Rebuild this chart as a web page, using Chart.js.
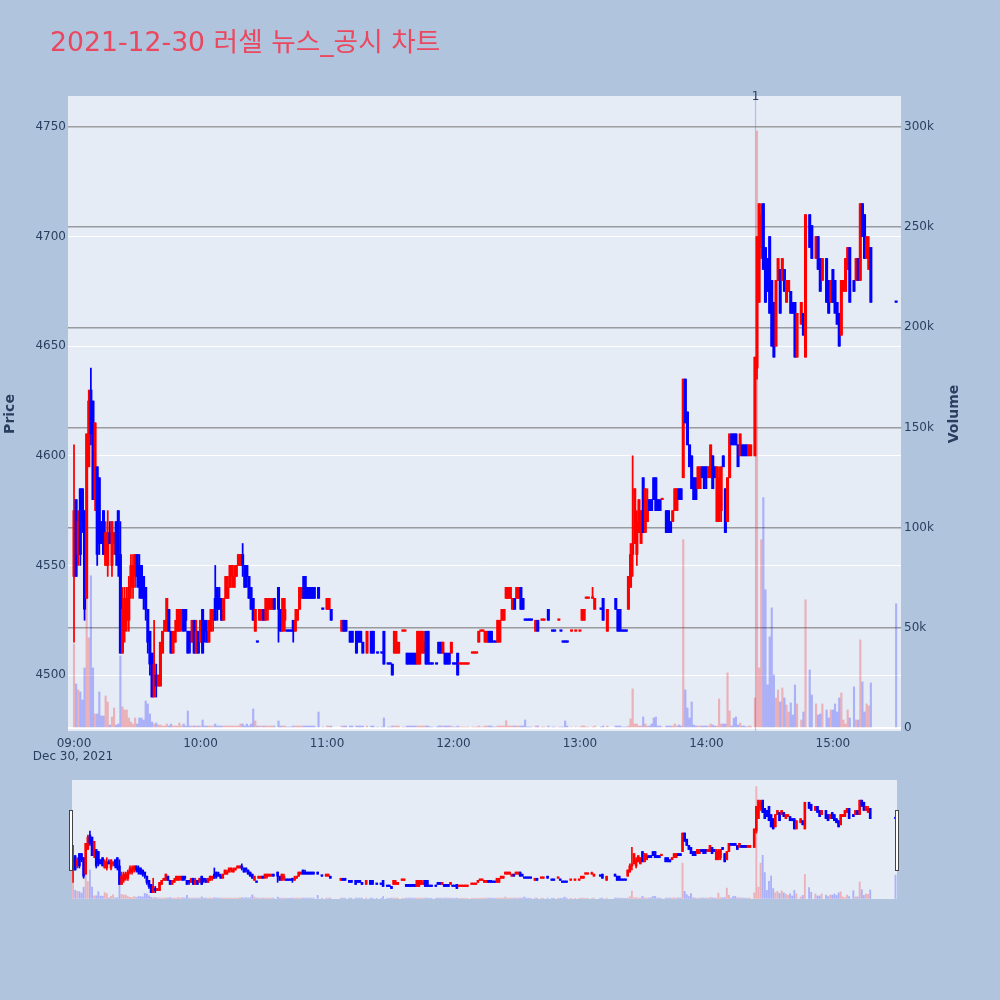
<!DOCTYPE html>
<html>
<head>
<meta charset="utf-8">
<script src="https://cdn.jsdelivr.net/npm/chart.js@4.4.0/dist/chart.umd.min.js"></script>
<style>
  body { margin: 0; background: #b0c4de; width: 1000px; height: 1000px; overflow: hidden; position: relative; }
  #mainChart { position: absolute; left: 0; top: 0; }
  #sliderChart { position: absolute; left: 60px; top: 770px; }
</style>
</head>
<body>
<canvas id="mainChart" width="1000" height="780"></canvas>
<canvas id="sliderChart" width="850" height="140"></canvas>
<script>
// minutes after 09:00, one candle per traded minute
const minutes = [
  0,1,2,3,4,5,6,7,8,9, 10,11,12,13,14,15,16,17,18,19, 20,21,22,23,24,25,26,27,28,29, 30,31,32,33,34,35,36,37,38,39, 40,41,42,
  43,44,45,46,47,48,49,50,51,52, 53,54,55,56,57,58,59,60,61,62, 63,64,65,66,67,68,69,70,71,72, 73,74,75,76,77,78,79,80,81,82,
  83,84,85,86,87,88,89,90,91,92, 93,94,95,97,98,99,100,101,102,103, 104,105,106,107,108,109,110,111,112,113, 114,116,118,120,121,122,
  127,128,129,131,132,134,135,136,137,139, 141,142,144,146,147,149,150,151,152,153, 154,156,157,158,159,160,161,162,163,164,
  165,166,167,168,169,170,172,173,174,175, 176,177,178,179,180,181,182,183,184,185, 186,187,189,190,191,192,193,194,195,196,
  197,198,199,200,201,202,203,204,205,206, 207,208,209,210,211,212,213,214,215,216, 217,219,220,222,223,225,227,228,230,231,
  232,233,234,236,238,240,241,242,243,244, 246,247,250,251,253,257,258,259,260,261, 262,
  263,264,265,266,267,268,269,270,271,272, 273,274,275,276,277,278,279,281,282,283, 284,285,286,287,288,289,290,291,292,293,
  294,295,296,297,298,299,300,301,302,303, 304,305,306,307,308,309,310,311,312,313, 314,315,316,317,318,319,320,321,
  323,324,325,326,327,328,329,330,331,332, 333,334,335,336,337,338,339,340,341,342, 343,345,346,347,349,350,352,353,354,355,
  357,358,359,360,361,362,363,364,365,366, 367,368,370,371,372,373,374,375,376,377, 378,390
];

const opens = [
  4545,4580,4555,4585,4585,4575,4535,4595,4630,4625, 4580,4595,4590,4570,4575,4550,4550,4565,4550,4560, 4570,4575,4555,4510,4520,4525,4525,4540,4540,4545, 4555,4550,4550,4545,4540,4530,4520,4510,4490,4500, 4495,4495,4510,
  4520,4520,4530,4520,4510,4515,4520,4520,4525,4530, 4530,4520,4520,4515,4525,4510,4520,4515,4530,4525, 4520,4515,4520,4525,4535,4540,4535,4530,4525,4535, 4535,4540,4545,4540,4545,4550,4550,4555,4550,4550,
  4545,4540,4535,4520,4515,4525,4525,4530,4525,4530, 4530,4530,4535,4540,4530,4520,4525,4520,4520,4520, 4525,4520,4525,4530,4535,4545,4540,4540,4540,4540, 4540,4540,4530,4530,4530,4530,
  4520,4525,4525,4520,4520,4520,4520,4520,4515,4510, 4520,4520,4510,4510,4520,4505,4505,4505,4510,4510, 4510,4520,4520,4510,4510,4510,4510,4510,4505,4505,
  4510,4510,4520,4520,4505,4505,4505,4515,4515,4510, 4510,4510,4510,4510,4505,4505,4510,4505,4505,4505, 4505,4505,4510,4510,4510,4515,4520,4520,4515,4515,
  4520,4520,4515,4515,4515,4515,4525,4525,4535,4535, 4535,4530,4535,4535,4535,4540,4535,4525,4525,4525, 4525,4520,4525,4525,4525,4530,4520,4520,4525,4520,
  4515,4515,4515,4520,4520,4520,4525,4525,4535,4535, 4535,4530,4530,4535,4520,4535,4530,4530,4520,4520, 4520,
  4530,4540,4555,4560,4555,4565,4560,4590,4565,4570, 4580,4580,4590,4590,4580,4580,4580,4575,4575,4570, 4570,4575,4575,4585,4585,4590,4635,4620,4605,4600,
  4590,4590,4585,4585,4595,4595,4595,4590,4590,4600, 4595,4570,4570,4575,4600,4585,4570,4590,4610,4610, 4610,4605,4600,4605,4605,4605,4600,4600,
  4600,4640,4670,4695,4715,4695,4690,4700,4680,4670, 4650,4680,4685,4680,4685,4670,4675,4675,4670,4670, 4645,4660,4665,4645,4710,4705,4690,4700,4690,4680,
  4690,4680,4670,4685,4680,4670,4665,4655,4675,4675, 4685,4695,4680,4680,4690,4680,4715,4710,4690,4685, 4695,4670
];

const highs = [
  4605,4580,4575,4585,4585,4575,4610,4630,4640,4625, 4615,4595,4590,4570,4575,4570,4575,4570,4570,4565, 4570,4575,4570,4540,4540,4540,4545,4555,4555,4555, 4555,4555,4550,4545,4540,4530,4520,4510,4525,4505, 4500,4515,4520,
  4525,4535,4530,4520,4520,4525,4530,4530,4530,4530, 4530,4520,4520,4525,4525,4525,4520,4525,4530,4525, 4525,4525,4530,4530,4550,4540,4540,4535,4535,4545, 4545,4550,4550,4550,4550,4555,4555,4560,4550,4550,
  4545,4540,4535,4530,4515,4530,4530,4530,4535,4535, 4535,4535,4535,4540,4530,4535,4535,4520,4520,4520, 4525,4530,4530,4540,4540,4545,4545,4540,4540,4540, 4540,4540,4530,4535,4535,4530,
  4525,4525,4525,4520,4520,4520,4520,4520,4515,4520, 4520,4520,4510,4510,4520,4505,4505,4505,4520,4520, 4515,4520,4520,4510,4510,4510,4510,4510,4520,4520,
  4520,4520,4520,4520,4505,4505,4505,4515,4515,4515, 4510,4510,4510,4515,4505,4505,4510,4505,4505,4505, 4505,4505,4510,4510,4510,4520,4520,4520,4520,4520,
  4520,4520,4515,4515,4525,4525,4530,4530,4540,4540, 4540,4535,4535,4540,4540,4540,4535,4525,4525,4525, 4525,4525,4525,4525,4525,4530,4520,4520,4525,4520,
  4515,4515,4515,4520,4520,4520,4530,4530,4535,4535, 4540,4535,4530,4535,4530,4535,4530,4530,4520,4520, 4520,
  4545,4560,4600,4585,4575,4580,4575,4590,4585,4585, 4580,4580,4590,4590,4580,4580,4580,4575,4575,4570, 4575,4585,4585,4585,4585,4635,4635,4620,4605,4600,
  4590,4590,4595,4595,4595,4595,4595,4595,4605,4600, 4595,4595,4595,4595,4600,4585,4590,4610,4610,4610, 4610,4605,4610,4605,4605,4605,4605,4605,
  4645,4700,4715,4715,4715,4695,4690,4700,4680,4670, 4680,4690,4685,4690,4685,4680,4680,4675,4670,4670, 4665,4670,4665,4710,4710,4705,4700,4700,4690,4690,
  4690,4680,4680,4685,4680,4670,4665,4680,4680,4690, 4695,4695,4680,4690,4690,4715,4715,4710,4700,4700, 4695,4670
];

const lows = [
  4515,4545,4550,4550,4565,4525,4535,4595,4605,4580, 4575,4550,4555,4560,4555,4550,4545,4560,4545,4555, 4550,4545,4510,4510,4515,4520,4520,4535,4535,4540, 4540,4535,4535,4530,4525,4510,4500,4490,4490,4490, 4495,4495,4510,
  4520,4520,4520,4510,4510,4515,4520,4520,4520,4520, 4520,4510,4510,4515,4510,4510,4510,4515,4510,4515, 4515,4515,4520,4520,4525,4525,4530,4525,4525,4535, 4535,4540,4540,4540,4545,4550,4550,4545,4540,4540,
  4535,4530,4525,4520,4515,4525,4525,4525,4525,4525, 4530,4530,4530,4515,4520,4520,4520,4520,4520,4520, 4515,4520,4525,4530,4535,4535,4535,4535,4535,4535, 4535,4535,4530,4530,4530,4525,
  4520,4520,4520,4515,4515,4510,4515,4515,4510,4510, 4510,4510,4510,4510,4505,4505,4505,4500,4510,4510, 4510,4520,4520,4505,4505,4505,4505,4505,4505,4505,
  4510,4510,4505,4505,4505,4505,4505,4510,4510,4510, 4505,4505,4505,4510,4505,4505,4500,4505,4505,4505, 4505,4505,4510,4510,4510,4515,4520,4520,4515,4515,
  4515,4515,4515,4515,4515,4515,4525,4525,4535,4535, 4535,4530,4530,4535,4535,4530,4530,4525,4525,4525, 4525,4520,4520,4525,4525,4525,4520,4520,4525,4520,
  4515,4515,4515,4520,4520,4520,4525,4525,4535,4535, 4535,4530,4530,4525,4520,4530,4520,4520,4520,4520, 4520,
  4530,4540,4545,4560,4550,4565,4560,4565,4565,4570, 4575,4575,4580,4575,4575,4575,4580,4565,4565,4565, 4570,4575,4575,4580,4580,4590,4615,4605,4595,4585,
  4580,4580,4585,4585,4590,4585,4585,4590,4590,4585, 4590,4570,4570,4570,4595,4565,4570,4590,4605,4605, 4605,4595,4600,4600,4600,4600,4600,4600,
  4600,4635,4670,4690,4685,4670,4675,4665,4650,4645, 4650,4680,4665,4680,4675,4670,4675,4665,4665,4645, 4645,4660,4655,4645,4695,4690,4690,4685,4675,4680,
  4670,4665,4670,4670,4665,4660,4650,4655,4675,4675, 4685,4670,4675,4680,4680,4680,4700,4690,4690,4685, 4670,4670
];

const closes = [
  4575,4545,4570,4555,4570,4530,4610,4625,4610,4580, 4615,4555,4560,4560,4555,4565,4565,4560,4570,4565, 4555,4550,4510,4530,4535,4535,4540,4550,4550,4555, 4545,4540,4535,4535,4530,4515,4505,4490,4505,4495, 4500,4515,4520,
  4525,4535,4520,4510,4520,4520,4530,4530,4530,4520, 4525,4510,4515,4525,4510,4520,4510,4525,4510,4520, 4515,4525,4530,4530,4525,4530,4530,4525,4535,4545, 4540,4550,4550,4545,4550,4555,4555,4550,4540,4545,
  4535,4530,4525,4530,4515,4530,4530,4525,4535,4535, 4535,4535,4530,4530,4520,4535,4530,4520,4520,4520, 4520,4525,4530,4540,4540,4535,4535,4535,4535,4535, 4535,4535,4530,4535,4535,4525,
  4525,4520,4520,4515,4515,4510,4515,4515,4510,4520, 4510,4510,4510,4510,4505,4505,4505,4500,4520,4515, 4515,4520,4520,4505,4505,4505,4505,4505,4520,4520,
  4520,4515,4505,4505,4505,4505,4505,4510,4510,4515, 4505,4505,4505,4515,4505,4505,4500,4505,4505,4505, 4505,4505,4510,4510,4510,4520,4520,4520,4520,4520,
  4515,4515,4515,4515,4525,4525,4530,4530,4540,4540, 4540,4535,4530,4540,4540,4530,4530,4525,4525,4525, 4525,4525,4520,4525,4525,4525,4520,4520,4525,4520,
  4515,4515,4515,4520,4520,4520,4530,4530,4535,4535, 4535,4535,4530,4525,4530,4530,4520,4520,4520,4520, 4520,
  4545,4555,4560,4585,4570,4580,4575,4565,4585,4580, 4575,4575,4580,4575,4575,4575,4580,4565,4565,4565, 4575,4585,4585,4580,4580,4635,4615,4605,4595,4585,
  4580,4580,4595,4595,4590,4585,4590,4595,4605,4585, 4590,4595,4590,4595,4595,4565,4590,4610,4605,4605, 4605,4595,4610,4600,4600,4600,4605,4605,
  4645,4700,4715,4710,4685,4670,4675,4665,4650,4645, 4680,4690,4665,4690,4675,4680,4680,4665,4665,4645, 4665,4670,4655,4710,4695,4690,4700,4685,4675,4690,
  4670,4665,4680,4670,4665,4660,4650,4680,4680,4690, 4695,4670,4675,4690,4680,4715,4700,4690,4700,4695, 4670,4670
];

// traded volume, thousands of shares
const volumeK = [
  42,22,19,18,14,30,74,45,76,30, 7,7,18,6,6,16,13,1.5,5.5,10, 1.5,2,36,10.5,9,9,5,3,2,5, 2,5,5,4,13.5,12,7,3,2,2.5, 1.5,1.5,1,
  1,2,1,2,1,1,1,2.5,1,2, 1,8.5,1,1,1,1,1,1,4,1, 1,1,1,1,2,1,1,1,1,1, 1,1,1,1,1,1,2,2,1,2,
  1,2,9.5,3.5,1,1,1,1,1,1, 1,1,1,3.5,1,1,1,0.5,0.5,0.5, 1,1,1,1,1,1,1,1,1,1, 1,8,0.5,1,1,1,
  1,1,1,1,1,1,1,1,1,1, 1,1,0.5,0.5,5,0.5,0.5,1,1,1, 1,0.5,0.5,1,1,1,1,1,1,1,
  1,1,1,1,0.5,0.5,0.5,1,1,1, 1,1,1,1,0.5,0.5,1,0.5,0.5,0.5, 0.5,0.5,0.5,0.5,0.5,1,0.5,0.5,1,1,
  1,1,0.5,0.5,1,1,1,1,3.7,1, 1,1,1,1,1,1,1,4,0.5,0.5, 0.5,1,1,0.5,0.5,1,0.5,0.5,0.5,0.5,
  0.5,3.5,1,0.5,0.5,0.5,1,1,0.5,0.5, 0.5,1,0.5,1,1,1,1,1,0.5,0.5, 0.5,
  1,4.5,19.5,2,2,1,1,5.5,2,1, 1,2,5,5.5,1,1,0.5,1,1,1, 1,2,1,1.5,1,94,19,10,5,13,
  1.5,1,1,1,1,1,1,1,2,1.5, 1,1,14.5,2,2,2,27.5,8.5,1,4.8, 5.5,1.5,2.5,1,1,0.5,1,1,
  15,298,30,94,115,69,21.5,45.5,60,26.5, 15,19,13,20,15,11.5,8,12.5,6.5,21.5, 12,4,8,64,29,16.5,12,6.5,7,12,
  9,5,9,9,12,8,15,17.5,4,2, 9,5,20.5,4,4,44,23,8,12,11, 22.5,62
];

const priceTicks = [4500, 4550, 4600, 4650, 4700, 4750];
const newsMinutes = [323.3];
const newsLabels = ['1'];
const chartTitle = '2021-12-30 러셀 뉴스_공시 차트';
const dateLabel = 'Dec 30, 2021';

const UP = '#ff0000';
const DOWN = '#0000ff';
const INK = '#2a3f5f';

Chart.defaults.font.family = "'DejaVu Sans', sans-serif";
Chart.defaults.font.size = 12;
Chart.defaults.color = INK;

// red = close above open, blue = below; flat candles follow the previous close
const isUp = [];
minutes.forEach((t, i) => {
  const o = opens[i], c = closes[i];
  let up;
  if (c > o) up = true;
  else if (c < o) up = false;
  else if (i > 0 && c !== closes[i - 1]) up = c > closes[i - 1];
  else up = i > 0 ? isUp[i - 1] : true;
  isUp.push(up);
});

const buildDatasets = (bodyW, wickW, volW) => [
  {
    label: 'body',
    data: minutes.map((t, i) => ({ x: t, y: [opens[i], closes[i]] })),
    backgroundColor: isUp.map((u) => (u ? UP : DOWN)),
    barThickness: bodyW,
    minBarLength: 1.5,
    grouped: false,
    order: 1,
    yAxisID: 'y',
  },
  {
    label: 'wick',
    data: minutes.map((t, i) => ({ x: t, y: [lows[i], highs[i]] })),
    backgroundColor: isUp.map((u) => (u ? UP : DOWN)),
    barThickness: wickW,
    grouped: false,
    order: 2,
    yAxisID: 'y',
  },
  {
    label: 'volume',
    data: minutes.map((t, i) => ({ x: t, y: volumeK[i] })),
    backgroundColor: isUp.map((u) => (u ? 'rgba(255,0,0,0.25)' : 'rgba(0,0,255,0.25)')),
    barThickness: volW,
    grouped: false,
    order: 3,
    yAxisID: 'y2',
  },
];

const plotBg = {
  id: 'plotBg',
  beforeDraw(chart) {
    const { ctx, chartArea: a } = chart;
    ctx.save();
    ctx.fillStyle = '#e5ecf6';
    ctx.fillRect(a.left, a.top, a.right - a.left, a.bottom - a.top);
    ctx.restore();
  },
};

const newsMarks = {
  id: 'newsMarks',
  beforeDatasetsDraw(chart) {
    const { ctx, chartArea: a } = chart;
    ctx.save();
    newsMinutes.forEach((m, i) => {
      const x = chart.scales.x.getPixelForValue(m);
      ctx.strokeStyle = 'rgba(65,105,225,0.35)';
      ctx.lineWidth = 1.2;
      ctx.beginPath();
      ctx.moveTo(x, a.top);
      ctx.lineTo(x, a.bottom);
      ctx.stroke();
      ctx.fillStyle = INK;
      ctx.font = "12px 'DejaVu Sans'";
      ctx.textAlign = 'center';
      ctx.textBaseline = 'middle';
      ctx.fillText(newsLabels[i], x, a.top + 0.5);
    });
    ctx.restore();
  },
};

const pageText = {
  id: 'pageText',
  afterDraw(chart) {
    const ctx = chart.ctx;
    ctx.save();
    ctx.fillStyle = 'rgb(234,72,94)';
    ctx.font = "26.7px 'DejaVu Sans', 'Noto Sans CJK KR'";
    ctx.textAlign = 'left';
    ctx.textBaseline = 'alphabetic';
    ctx.fillText(chartTitle, 50, 51);

    ctx.fillStyle = INK;
    ctx.font = "12px 'DejaVu Sans'";
    ctx.textAlign = 'center';
    ctx.textBaseline = 'middle';
    ctx.fillText(dateLabel, 73, 757);

    ctx.font = "bold 14px 'DejaVu Sans'";
    ctx.translate(10, 414);
    ctx.rotate(-Math.PI / 2);
    ctx.fillText('Price', 0, 0);
    ctx.restore();

    ctx.save();
    ctx.fillStyle = INK;
    ctx.font = "bold 14px 'DejaVu Sans'";
    ctx.textAlign = 'center';
    ctx.textBaseline = 'middle';
    ctx.translate(954, 414);
    ctx.rotate(-Math.PI / 2);
    ctx.fillText('Volume', 0, 0);
    ctx.restore();
  },
};

const hhmm = (v) => String(9 + Math.floor(v / 60)).padStart(2, '0') + ':' + String(v % 60).padStart(2, '0');

var mainChart = new Chart(document.getElementById('mainChart').getContext('2d'), {
  type: 'bar',
  data: { datasets: buildDatasets(2.4, 1.1, 1.5) },
  options: {
    responsive: false,
    animation: false,
    layout: { padding: { top: 96, left: 0, right: 0, bottom: 0 } },
    plugins: { legend: { display: false }, tooltip: { enabled: false } },
    scales: {
      x: {
        type: 'linear',
        min: -2.85,
        max: 392.3,
        offset: false,
        grid: { display: false },
        border: { display: false },
        ticks: { stepSize: 60, includeBounds: false, autoSkip: false, maxRotation: 0, padding: -2, callback: (v) => hhmm(v) },
        afterFit: (s) => { s.height = 49; },
      },
      y: {
        position: 'left',
        min: 4474.5,
        max: 4764.1,
        grid: { color: '#ffffff', lineWidth: 1, drawTicks: false, z: -2 },
        border: { display: false },
        ticks: { stepSize: 50, includeBounds: false, padding: 2, callback: (v) => (priceTicks.includes(v) ? String(v) : '') },
        afterFit: (s) => { s.width = 68; },
      },
      y2: {
        position: 'right',
        min: -1.5,
        max: 315.5,
        grid: {
          drawTicks: false,
          z: -1,
          color: (c) => (c.tick && c.tick.value === 0 ? '#ffffff' : 'rgba(128,128,128,0.75)'),
          lineWidth: (c) => (c.tick && c.tick.value === 0 ? 2 : 1.5),
        },
        border: { display: false },
        ticks: { stepSize: 50, includeBounds: false, padding: 3, callback: (v) => (v === 0 ? '0' : v + 'k') },
        afterFit: (s) => { s.width = 99; },
      },
    },
  },
  plugins: [plotBg, newsMarks, pageText],
});

const sliderHandles = {
  id: 'sliderHandles',
  afterDraw(chart) {
    const { ctx, chartArea: a } = chart;
    ctx.save();
    ctx.fillStyle = '#ffffff';
    ctx.strokeStyle = '#444444';
    ctx.lineWidth = 1;
    [a.left - 2.5, a.right - 1.5].forEach((x) => {
      ctx.fillRect(x, 40.5, 3, 60);
      ctx.strokeRect(x, 40.5, 3, 60);
    });
    ctx.restore();
  },
};

var sliderChart = new Chart(document.getElementById('sliderChart').getContext('2d'), {
  type: 'bar',
  data: { datasets: buildDatasets(2, 1, 1.2) },
  options: {
    responsive: false,
    animation: false,
    layout: { padding: { top: 10, left: 12, right: 13, bottom: 11 } },
    plugins: { legend: { display: false }, tooltip: { enabled: false } },
    scales: {
      x: { type: 'linear', display: false, min: -0.5, max: 390.7, offset: false },
      y: { display: false, min: 4474.5, max: 4764.1 },
      y2: { display: false, min: -1.5, max: 315.5 },
    },
  },
  plugins: [plotBg, sliderHandles],
});
</script>
</body>
</html>
